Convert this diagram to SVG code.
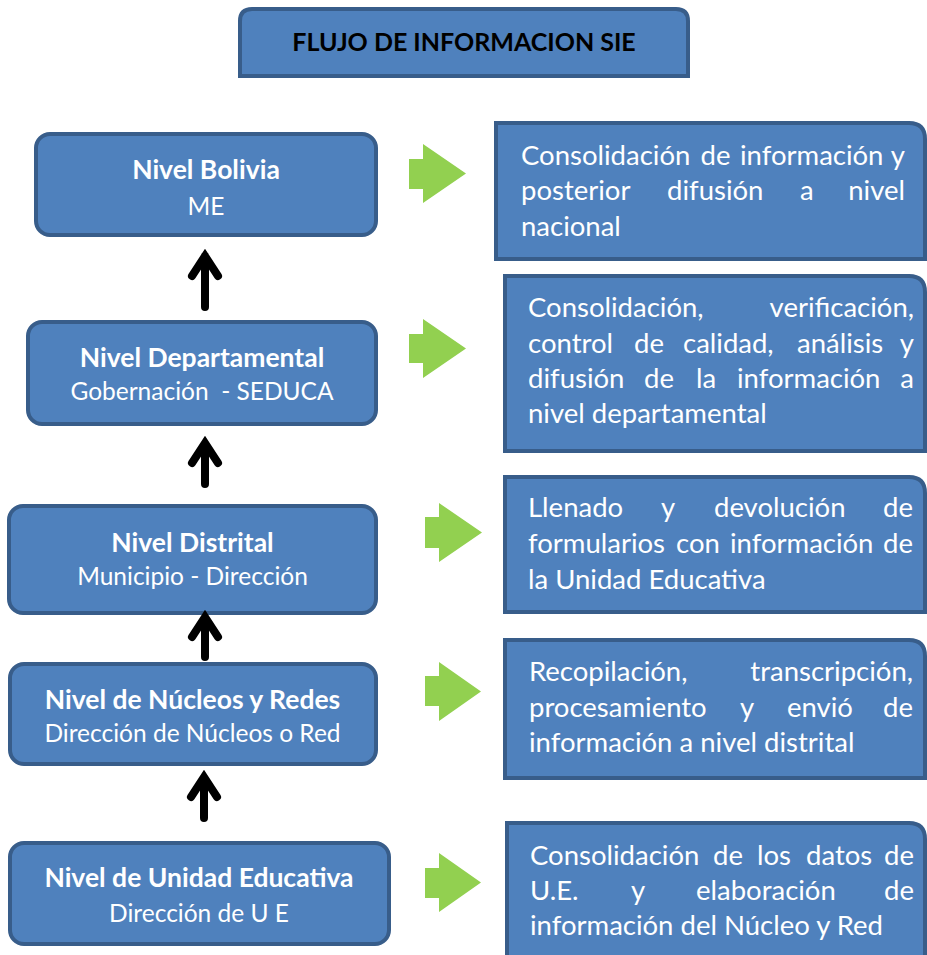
<svg xmlns="http://www.w3.org/2000/svg" width="927" height="955" viewBox="0 0 927 955">
<style>
.box{fill:#4F81BD;stroke:#385D8A;stroke-width:4}
.t{font-family:Lato,"Open Sans","Liberation Sans",sans-serif;fill:#FFFFFF}
.b{font-weight:bold;font-size:26.5px}
.r{font-size:24.5px}
.p{font-size:27.5px}
.title{font-family:Lato,"Open Sans","Liberation Sans",sans-serif;font-weight:bold;font-size:25px;fill:#000000}
.green{fill:#92D050}
.up{fill:none;stroke:#000000;stroke-width:8}
</style>
<rect width="927" height="955" fill="#FFFFFF"/>
<g id="title">
<path class="box" d="M240,76 V21 Q240,9 252,9 H676 Q688,9 688,21 V76 Z"/>
<text class="title" x="464" y="51" text-anchor="middle">FLUJO DE INFORMACION SIE</text>
</g>
<g id="nivel-bolivia">
<rect class="box" x="36" y="134" width="340" height="101" rx="14"/>
<text class="t b" x="206" y="179" text-anchor="middle">Nivel Bolivia</text>
<text class="t r" x="206" y="215" text-anchor="middle">ME</text>
</g>
<g id="nivel-departamental">
<rect class="box" x="28" y="322" width="348" height="102" rx="14"/>
<text class="t b" x="202" y="367" text-anchor="middle">Nivel Departamental</text>
<text class="t r" x="202" y="400" text-anchor="middle" xml:space="preserve">Gobernación  - SEDUCA</text>
</g>
<g id="nivel-distrital">
<rect class="box" x="9" y="506" width="367" height="107" rx="14"/>
<text class="t b" x="192.5" y="552" text-anchor="middle">Nivel Distrital</text>
<text class="t r" x="192.5" y="585" text-anchor="middle">Municipio - Dirección</text>
</g>
<g id="nivel-nucleos">
<rect class="box" x="10" y="664" width="366" height="100" rx="14"/>
<text class="t b" x="192.5" y="709" text-anchor="middle">Nivel de Núcleos y Redes</text>
<text class="t r" x="192.5" y="742" text-anchor="middle">Dirección de Núcleos o Red</text>
</g>
<g id="nivel-ue">
<rect class="box" x="10" y="843" width="379" height="101" rx="14"/>
<text class="t b" x="199" y="887" text-anchor="middle">Nivel de Unidad Educativa</text>
<text class="t r" x="199" y="922" text-anchor="middle">Dirección de U E</text>
</g>
<g id="desc-bolivia">
<path class="box" d="M496,123 H909 Q925,123 925,139 V259 H496 Z"/>
<text class="t p" y="165"><tspan x="521">Consolidación</tspan><tspan x="700.5">de</tspan><tspan x="740">información</tspan><tspan x="905" text-anchor="end">y</tspan></text>
<text class="t p" y="200"><tspan x="521">posterior</tspan><tspan x="667">difusión</tspan><tspan x="800">a</tspan><tspan x="905" text-anchor="end">nivel</tspan></text>
<text class="t p" x="521" y="236">nacional</text>
</g>
<g id="desc-departamental">
<path class="box" d="M505,276 H909 Q925,276 925,292 V451 H505 Z"/>
<text class="t p" y="317"><tspan x="528">Consolidación,</tspan><tspan x="914" text-anchor="end">verificación,</tspan></text>
<text class="t p" y="353"><tspan x="528">control</tspan><tspan x="634">de</tspan><tspan x="683">calidad,</tspan><tspan x="797">análisis</tspan><tspan x="914" text-anchor="end">y</tspan></text>
<text class="t p" y="388"><tspan x="528">difusión</tspan><tspan x="644">de</tspan><tspan x="696">la</tspan><tspan x="737">información</tspan><tspan x="914" text-anchor="end">a</tspan></text>
<text class="t p" x="528" y="423">nivel departamental</text>
</g>
<g id="desc-distrital">
<path class="box" d="M505,477 H909 Q925,477 925,493 V612 H505 Z"/>
<text class="t p" y="517"><tspan x="528">Llenado</tspan><tspan x="661">y</tspan><tspan x="714">devolución</tspan><tspan x="913" text-anchor="end">de</tspan></text>
<text class="t p" y="553"><tspan x="528">formularios</tspan><tspan x="676">con</tspan><tspan x="730">información</tspan><tspan x="913" text-anchor="end">de</tspan></text>
<text class="t p" x="528" y="589">la Unidad Educativa</text>
</g>
<g id="desc-nucleos">
<path class="box" d="M505,640 H909 Q925,640 925,656 V778 H505 Z"/>
<text class="t p" y="681"><tspan x="529">Recopilación,</tspan><tspan x="913" text-anchor="end">transcripción,</tspan></text>
<text class="t p" y="717"><tspan x="529">procesamiento</tspan><tspan x="740">y</tspan><tspan x="787">envió</tspan><tspan x="913" text-anchor="end">de</tspan></text>
<text class="t p" x="529" y="752">información a nivel distrital</text>
</g>
<g id="desc-ue">
<path class="box" d="M507,823 H909 Q925,823 925,839 V980 H507 Z"/>
<text class="t p" y="865"><tspan x="530">Consolidación</tspan><tspan x="713">de</tspan><tspan x="757">los</tspan><tspan x="806">datos</tspan><tspan x="914" text-anchor="end">de</tspan></text>
<text class="t p" y="900"><tspan x="530">U.E.</tspan><tspan x="631">y</tspan><tspan x="696">elaboración</tspan><tspan x="914" text-anchor="end">de</tspan></text>
<text class="t p" x="530" y="935">información del Núcleo y Red</text>
</g>
<g id="connectors">
<path class="up" d="M205,307 V256 M192,276 L205,256 L218,276" stroke-linecap="round" stroke-linejoin="miter"/>
<path class="up" d="M205,484 V447 M192,463 L205,443 L218,463" stroke-linecap="round"/>
<path class="up" d="M205,657 V621 M192,637 L205,617 L218,637" stroke-linecap="round"/>
<path class="up" d="M204,818 V781 M191,797 L204,777 L217,797" stroke-linecap="round"/>
<polygon class="green" points="409,159 423,159 423,144 466,173.5 423,203 423,189 409,189"/>
<polygon class="green" points="409,334 423,334 423,319 466,348.5 423,378 423,363 409,363"/>
<polygon class="green" points="425,517 439,517 439,503 482,532.5 439,562 439,548 425,548"/>
<polygon class="green" points="425,676 439,676 439,662 481,691.5 439,721 439,706 425,706"/>
<polygon class="green" points="425,868 439,868 439,853 481,882.5 439,912 439,898 425,898"/>
</g>
</svg>
